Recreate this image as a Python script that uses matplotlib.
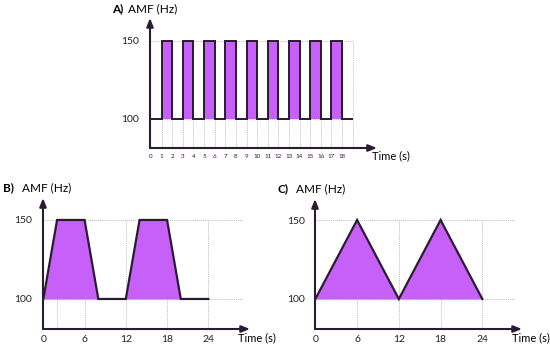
import matplotlib
matplotlib.use("Agg")
import matplotlib.pyplot as plt

plt.rcParams['font.family'] = ['Lato', 'DejaVu Sans']

# Panel A: square wave, one value per 1 s step
a_edges = [0, 1, 2, 3, 4, 5, 6, 7, 8, 9, 10, 11, 12, 13, 14, 15, 16, 17, 18, 19]
a_amf = [100, 150, 100, 150, 100, 150, 100, 150, 100, 150,
         100, 150, 100, 150, 100, 150, 100, 150, 100]
a_ticks = [0, 1, 2, 3, 4, 5, 6, 7, 8, 9, 10, 11, 12, 13, 14, 15, 16, 17, 18]

# Panel B: trapezoid
b_time = [0, 2, 6, 8, 12, 14, 18, 20, 24]
b_amf = [100, 150, 150, 100, 100, 150, 150, 100, 100]
b_ticks = [0, 6, 12, 18, 24]

# Panel C: triangle
c_time = [0, 6, 12, 18, 24]
c_amf = [100, 150, 100, 150, 100]
c_ticks = [0, 6, 12, 18, 24]

y_ticks = [100, 150]

W, H = 550, 347
FILL = '#C660F8'
LINE = '#2A1B30'
GRID = '#BDBDBD'

fig = plt.figure(figsize=(W / 100, H / 100), dpi=100)


def make_ax(l, t, r, b, xlim, ylim):
    ax = fig.add_axes([l / W, 1 - b / H, (r - l) / W, (b - t) / H])
    ax.set_xlim(*xlim)
    ax.set_ylim(*ylim)
    for s in ax.spines.values():
        s.set_visible(False)
    ax.patch.set_alpha(0)
    ax.tick_params(length=0, colors='#222222')
    arrow = dict(arrowstyle='-|>,head_length=0.5,head_width=0.2', color=LINE, lw=1.5,
                 shrinkA=0, shrinkB=0)
    ax.annotate('', xy=(1, 0), xytext=(0, 0), xycoords='axes fraction', arrowprops=arrow)
    ax.annotate('', xy=(0, 1), xytext=(0, 0), xycoords='axes fraction', arrowprops=arrow)
    return ax


def guides(ax, vx, xend, ymin):
    ax.vlines(vx, ymin, 150, colors=GRID, linestyles=(0, (1, 1)), lw=0.7, zorder=0)
    ax.hlines(y_ticks, 0, xend, colors=GRID, linestyles=(0, (1, 1)), lw=0.7, zorder=0)


# ---- A ----
axA = make_ax(150, 18, 377, 148, (-0.1, 21.3), (81, 164.8))
guides(axA, a_edges[1:], 19, 81)
axA.stairs(a_amf, a_edges, baseline=100, fill=True, color=FILL, lw=0, zorder=1)
axA.stairs(a_amf, a_edges, baseline=None, color=LINE, lw=1.4, zorder=2)
axA.set_xticks(a_ticks)
axA.set_xticklabels([str(v) for v in a_ticks], fontsize=4.5)
axA.set_yticks(y_ticks)
axA.set_yticklabels([str(v) for v in y_ticks], fontsize=7.5)
axA.tick_params(axis='x', pad=4)
axA.tick_params(axis='y', pad=8)

# ---- B ----
axB = make_ax(43, 198, 250, 329, (-0.05, 30.07), (81, 163.9))
guides(axB, [2, 6, 12, 18, 24], 29.1, 81)
axB.fill_between(b_time, 100, b_amf, color=FILL, lw=0, zorder=1)
axB.plot(b_time, b_amf, color=LINE, lw=1.6, zorder=2, solid_joinstyle='miter')
axB.set_xticks(b_ticks)
axB.set_xticklabels([str(v) for v in b_ticks], fontsize=7.5)
axB.set_yticks(y_ticks)
axB.set_yticklabels([str(v) for v in y_ticks], fontsize=7.5)
axB.tick_params(axis='x', pad=4)
axB.tick_params(axis='y', pad=8)

# ---- C ----
axC = make_ax(315, 199, 522, 329, (-0.05, 29.7), (81, 163.3))
guides(axC, [6, 12, 18, 24], 28.6, 81)
axC.fill_between(c_time, 100, c_amf, color=FILL, lw=0, zorder=1)
axC.plot(c_time, c_amf, color=LINE, lw=1.6, zorder=2, solid_joinstyle='miter')
axC.set_xticks(c_ticks)
axC.set_xticklabels([str(v) for v in c_ticks], fontsize=7.5)
axC.set_yticks(y_ticks)
axC.set_yticklabels([str(v) for v in y_ticks], fontsize=7.5)
axC.tick_params(axis='x', pad=4)
axC.tick_params(axis='y', pad=7)

# titles and axis labels
for lab, x0, x1, y in [('A)', 112, 128, 9), ('B)', 3, 22, 188), ('C)', 277, 296, 189)]:
    fig.text(x0 / W, 1 - y / H, lab, fontsize=8.5, fontweight='bold', va='center', ha='left')
    fig.text(x1 / W, 1 - y / H, 'AMF (Hz)', fontsize=8.5, va='center', ha='left')

for x, y in [(372, 156), (238, 338), (512, 338)]:
    fig.text(x / W, 1 - y / H, 'Time (s)', fontsize=8, va='center', ha='left')

fig.savefig('out.png', dpi=100)
